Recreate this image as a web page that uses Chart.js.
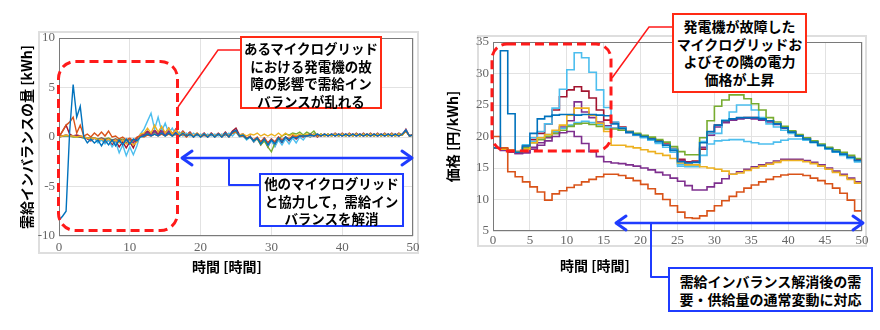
<!DOCTYPE html>
<html>
<head>
<meta charset="utf-8">
<script src="https://cdn.jsdelivr.net/npm/chart.js@4.4.1/dist/chart.umd.min.js"></script>
<style>
  body { margin: 0; background: #fff; }
  #stage { position: relative; width: 880px; height: 330px; overflow: hidden; font-family: "Noto Sans CJK JP", sans-serif; }
  .frame { position: absolute; border: 2px solid #dedede; box-sizing: border-box; }
  .plot { position: absolute; top: 0; width: 440px; height: 290px; }
  .note { position: absolute; background: #fff; color: #000; font-weight: bold; text-align: center; white-space: nowrap; box-sizing: border-box; }
  .red { border: 2px solid #ff2a14; }
  .blue { border: 2px solid #1f3cff; }
  svg { position: absolute; left: 0; top: 0; }
</style>
</head>
<body>
<div id="stage">
  <div class="frame" style="left:38px;top:31px;width:381px;height:223px"></div>
  <div class="frame" style="left:477px;top:35px;width:390px;height:212px"></div>

  <div class="plot" style="left:0"><canvas id="imbalanceChart"></canvas></div>
  <div class="plot" style="left:440px"><canvas id="priceChart"></canvas></div>

  <svg width="880" height="330">
    <g fill="none" stroke="#ff1a1a">
      <rect x="58.5" y="61.5" width="119" height="169" rx="17" stroke-width="3" stroke-dasharray="9 5"/>
      <rect x="492" y="44" width="119" height="107" rx="15" stroke-width="3" stroke-dasharray="9 5"/>
      <polyline points="178,107 218,50 240,50" stroke-width="1.5"/>
      <polyline points="612,78 649,27 672,27" stroke-width="1.5"/>
    </g>
    <g fill="none" stroke="#1f3cff" stroke-linecap="round" stroke-linejoin="round">
      <line x1="183" y1="158" x2="410" y2="158" stroke-width="2.5"/>
      <polyline points="192,151 182,158 192,165" stroke-width="3"/>
      <polyline points="402,151 412,158 402,165" stroke-width="3"/>
      <polyline points="229,158 229,185 259,185" stroke-width="2"/>
      <line x1="617" y1="223" x2="861" y2="223" stroke-width="2.5"/>
      <polyline points="626,216 616,223 626,230" stroke-width="3"/>
      <polyline points="853,216 863,223 853,230" stroke-width="3"/>
      <polyline points="651,223 651,277 668,277" stroke-width="2"/>
    </g>
  </svg>

  <div class="note red" style="left:240px;top:36px;width:142px;height:73px;font-size:13.5px;line-height:17.5px;padding-top:2px">あるマイクログリッド<br>における発電機の故<br>障の影響で需給イン<br>バランスが乱れる</div>
  <div class="note blue" style="left:259px;top:173px;width:145px;height:54px;font-size:13.5px;line-height:17.5px">他のマイクログリッド<br>と協力して，需給イン<br>バランスを解消</div>
  <div class="note red" style="left:672px;top:13px;width:135px;height:80px;font-size:14px;line-height:17.5px;padding-top:3px">発電機が故障した<br>マイクログリッドお<br>よびその隣の電力<br>価格が上昇</div>
  <div class="note blue" style="left:668px;top:267px;width:205px;height:45px;font-size:14px;line-height:18px;padding-top:3px">需給インバランス解消後の需<br>要・供給量の通常変動に対応</div>
</div>

<script>
// 左: 需給インバランス (30分刻み), 右: 電力価格 (1時間刻み, 階段)
const leftTimes = Array.from({ length: 101 }, (_, i) => i / 2);
const rightTimes = Array.from({ length: 51 }, (_, i) => i);

const leftBlue = [
  -8.4, -8.0, -7.5, 0.5, 5.3, 2.0, 3.1, 0.0, -0.6, -0.2,
  -0.6, -0.3, -0.9, -0.3, -0.8, -0.3, -0.9, -0.3, -0.8, -0.2,
  -0.7, -0.2, -0.4, 0.0, 0.1, 0.3, 0.1, 0.3, 0.1, 0.4,
  0.1, 0.4, 0.1, 0.4, 0.1, 0.4, 0.1, 0.3, 0.0, 0.3,
  0.0, 0.3, 0.0, 0.3, 0.0, 0.3, 0.0, 0.4, 0.0, 0.5,
  0.7, 0.1, 0.2, -0.2, 0.0, -0.4, -0.1, -0.7, -0.2, -0.8,
  -0.3, -0.7, -0.1, -0.5, 0.0, -0.3, 0.0, -0.1, 0.1, 0.1,
  0.1, 0.2, 0.1, 0.3, 0.1, 0.3, 0.1, 0.3, 0.1, 0.3,
  0.1, 0.3, 0.1, 0.3, 0.1, 0.3, 0.1, 0.3, 0.1, 0.3,
  0.1, 0.3, 0.1, 0.3, 0.1, 0.3, 0.1, 0.3, 0.7, 0.1,
  0.2
];
const leftOrange = [
  0.0, 0.6, 1.2, 1.5, 2.0, 0.4, 1.2, 0.1, 0.3, 0.0,
  0.4, 0.1, 0.5, 0.1, 0.6, 0.0, 0.1, -0.2, 0.0, -0.3,
  -0.1, -0.4, 0.0, 0.1, 0.0, 0.2, 0.1, 0.3, 0.1, 0.3,
  0.1, 0.3, 0.1, 0.3, 0.1, 0.3, 0.0, 0.3, 0.0, 0.3,
  0.0, 0.2, 0.0, 0.3, 0.0, 0.3, 0.0, 0.3, 0.0, 0.4,
  0.6, 0.1, 0.1, -0.1, 0.0, -0.3, 0.0, -0.5, -0.1, -0.6,
  -0.2, -0.5, 0.0, -0.3, 0.0, -0.2, 0.1, 0.0, 0.1, 0.1,
  0.1, 0.2, 0.1, 0.2, 0.1, 0.3, 0.1, 0.3, 0.1, 0.3,
  0.1, 0.3, 0.1, 0.3, 0.1, 0.3, 0.1, 0.3, 0.1, 0.3,
  0.1, 0.3, 0.1, 0.3, 0.1, 0.3, 0.1, 0.3, 0.6, 0.1,
  0.2
];
const leftYellow = [
  0.0, 0.1, 0.2, 0.1, 0.1, 0.0, 0.1, 0.0, -0.1, -0.2,
  -0.1, -0.3, -0.2, -0.4, -0.2, -0.5, -0.3, -0.6, -0.3, -0.7,
  -0.4, -0.8, -0.5, 0.3, 0.4, 0.9, 0.4, 1.2, 0.5, 1.1,
  0.4, 0.9, 0.3, 0.7, 0.2, 0.5, 0.1, 0.4, 0.1, 0.4,
  0.1, 0.3, 0.1, 0.3, 0.1, 0.3, 0.1, 0.4, 0.1, 0.4,
  0.5, 0.2, 0.3, 0.1, 0.3, 0.2, 0.4, 0.1, 0.3, 0.1,
  0.3, 0.1, 0.4, 0.1, 0.4, 0.1, 0.3, 0.1, 0.3, 0.1,
  0.3, 0.1, 0.3, 0.1, 0.3, 0.1, 0.3, 0.1, 0.3, 0.1,
  0.3, 0.1, 0.3, 0.1, 0.3, 0.1, 0.3, 0.1, 0.3, 0.1,
  0.3, 0.1, 0.3, 0.1, 0.3, 0.1, 0.3, 0.2, 0.6, 0.1,
  0.2
];
const leftPurple = [
  0.0, 0.1, 0.2, 0.1, 0.1, 0.1, 0.0, 0.0, -0.1, -0.2,
  -0.1, -0.3, -0.1, -0.3, -0.2, -0.4, -0.2, -0.5, -0.3, -0.6,
  -0.3, -0.6, -0.1, 0.2, 0.2, 0.5, 0.2, 0.6, 0.2, 0.6,
  0.2, 0.6, 0.2, 0.5, 0.1, 0.4, 0.1, 0.4, 0.1, 0.3,
  0.1, 0.3, 0.1, 0.3, 0.1, 0.3, 0.1, 0.3, 0.1, 0.4,
  0.6, 0.1, 0.2, -0.1, 0.0, -0.3, -0.1, -0.5, -0.1, -0.6,
  -0.2, -0.5, 0.0, -0.3, 0.0, -0.2, 0.1, 0.0, 0.1, 0.1,
  0.1, 0.3, 0.1, 0.3, 0.1, 0.3, 0.1, 0.3, 0.1, 0.3,
  0.1, 0.3, 0.1, 0.3, 0.1, 0.3, 0.1, 0.3, 0.1, 0.3,
  0.1, 0.3, 0.1, 0.3, 0.1, 0.3, 0.1, 0.3, 0.7, 0.1,
  0.3
];
const leftGreen = [
  0.0, 0.1, 0.1, 0.1, 0.0, 0.0, 0.0, -0.1, -0.1, -0.1,
  -0.1, -0.2, -0.1, -0.2, -0.1, -0.3, -0.2, -0.3, -0.2, -0.4,
  -0.2, -0.4, -0.1, 0.1, 0.2, 0.4, 0.2, 0.5, 0.2, 0.5,
  0.2, 0.5, 0.1, 0.4, 0.1, 0.3, 0.1, 0.3, 0.1, 0.3,
  0.1, 0.3, 0.1, 0.3, 0.1, 0.3, 0.1, 0.3, 0.1, 0.4,
  0.5, 0.1, 0.1, -0.2, 0.0, -0.4, -0.2, -0.8, -0.4, -1.0,
  -1.5, -0.6, -0.2, 0.1, 0.3, 0.2, 0.4, 0.3, 0.5, 0.2,
  0.5, 0.3, 0.6, 0.1, 0.3, 0.1, 0.3, 0.1, 0.3, 0.1,
  0.3, 0.1, 0.3, 0.1, 0.3, 0.1, 0.3, 0.1, 0.3, 0.1,
  0.3, 0.1, 0.3, 0.1, 0.3, 0.1, 0.3, 0.2, 0.6, 0.1,
  0.2
];
const leftLightBlue = [
  0.0, 0.1, 0.1, 0.1, 0.1, 0.0, 0.0, -0.1, -0.1, -0.3,
  -0.1, -0.6, -0.3, -0.7, -0.3, -1.0, -0.5, -1.6, -0.8, -1.9,
  -1.0, -1.8, -0.9, 0.3, 0.8, 1.6, 2.4, 0.8, 2.0, 0.6,
  1.4, 0.4, 0.9, 0.2, 0.5, 0.1, 0.4, 0.1, 0.4, 0.1,
  0.3, 0.1, 0.3, 0.1, 0.3, 0.1, 0.3, 0.1, 0.4, 0.1,
  0.5, 0.0, 0.1, -0.3, 0.0, -0.5, -0.1, -0.7, -0.2, -0.9,
  -0.4, -1.0, -0.3, -0.8, -0.2, -0.7, -0.1, -0.6, 0.0, -0.3,
  0.2, 0.0, 0.3, 0.1, 0.3, 0.1, 0.3, 0.1, 0.3, 0.1,
  0.3, 0.1, 0.3, 0.1, 0.3, 0.1, 0.3, 0.1, 0.3, 0.1,
  0.3, 0.1, 0.3, 0.1, 0.3, 0.1, 0.3, 0.2, 0.7, 0.1,
  0.2
];
const leftDarkRed = [
  0.0, 0.6, 1.2, 0.3, 0.1, 0.2, 0.1, 0.0, -0.2, -0.4,
  -0.1, -0.4, -0.2, -0.6, -0.3, -0.8, -0.4, -1.0, -0.5, -1.1,
  -0.5, -1.1, -0.2, 0.2, 0.3, 0.6, 0.3, 0.7, 0.3, 0.8,
  0.4, 0.9, 0.3, 0.8, 0.2, 0.6, 0.2, 0.5, 0.1, 0.4,
  0.1, 0.4, 0.0, 0.4, 0.1, 0.4, 0.1, 0.5, 0.1, 0.6,
  0.9, 0.2, 0.3, -0.2, 0.1, -0.5, -0.1, -0.8, -0.2, -1.0,
  -0.3, -0.9, -0.1, -0.6, 0.0, -0.4, 0.1, -0.2, 0.1, 0.0,
  0.2, 0.0, 0.3, 0.0, 0.3, 0.1, 0.3, 0.1, 0.4, 0.1,
  0.4, 0.1, 0.4, 0.1, 0.4, 0.1, 0.4, 0.1, 0.4, 0.1,
  0.4, 0.1, 0.4, 0.1, 0.4, 0.1, 0.4, 0.2, 0.8, 0.1,
  0.3
];

const rightBlue = [
  18.2, 33.6, 23.6, 17.5, 18.5, 20.5, 22.8, 23.2, 23.4, 23.5,
  23.5, 23.4, 23.5, 23.5, 23.4, 23.3, 22.0, 21.3, 20.7, 20.3,
  20.0, 19.6, 19.2, 18.6, 17.8, 16.0, 15.8, 15.9, 19.0, 20.8,
  21.8, 22.5, 22.8, 23.0, 23.0, 23.0, 22.8, 22.5, 22.0, 21.4,
  20.7, 20.1, 19.6, 19.1, 18.6, 18.1, 17.6, 17.2, 16.7, 16.2, 15.7
];
const rightOrange = [
  20.0, 18.2, 14.4, 13.6, 12.8, 12.0, 11.2, 9.9, 10.9, 11.4,
  11.9, 12.3, 12.8, 13.2, 13.6, 14.0, 14.0, 13.8, 13.4, 13.0,
  12.4, 11.7, 10.9, 10.0, 9.0, 8.0, 7.1, 7.0, 7.4, 8.2,
  9.0, 9.8, 10.5, 11.2, 11.8, 12.3, 12.8, 13.2, 13.6, 13.9,
  14.0, 14.0, 13.8, 13.4, 13.0, 12.5, 11.8, 11.0, 9.9, 8.2, 8.2
];
const rightYellow = [
  18.2, 18.0, 17.8, 17.5, 18.0, 19.0, 19.8, 20.3, 21.0, 21.8,
  23.4, 24.5, 24.5, 23.4, 22.1, 20.8, 18.6, 18.6, 18.4, 18.2,
  17.9, 17.6, 17.3, 17.0, 16.5, 15.8, 15.5, 15.5, 15.2, 15.0,
  14.8, 14.5, 14.0, 14.2, 14.6, 15.0, 15.3, 15.6, 15.9, 16.2,
  16.2, 16.2, 16.0, 15.7, 15.3, 14.8, 14.3, 13.8, 13.2, 12.6, 12.2
];
const rightPurpleLow = [
  18.2, 17.8, 17.5, 17.3, 17.4, 18.0, 18.6, 19.3, 20.0, 20.6,
  20.8, 20.0, 18.9, 17.6, 16.8, 16.0, 15.8, 15.7, 15.5, 15.3,
  15.0, 14.7, 14.3, 13.9, 13.4, 12.9, 12.2, 11.5, 11.5, 12.0,
  12.6, 13.3, 14.0, 14.4, 14.8, 15.2, 15.5, 15.8, 16.1, 16.4,
  16.4, 16.4, 16.2, 15.9, 15.5, 15.0, 14.5, 14.0, 13.4, 12.8, 12.5
];
const rightGreen = [
  18.2, 18.0, 17.8, 17.6, 18.2, 19.0, 19.5, 20.0, 20.5, 21.0,
  21.6, 22.0, 22.1, 21.9, 21.6, 21.2, 21.2, 21.0, 20.8, 20.5,
  20.2, 19.9, 19.5, 19.1, 18.4, 17.6, 17.1, 17.1, 19.8, 22.5,
  24.8, 25.8, 26.6, 26.6, 26.0, 25.2, 24.2, 23.0, 22.3, 21.6,
  20.9, 20.3, 19.8, 19.3, 18.8, 18.3, 17.9, 17.5, 17.0, 16.5, 16.1
];
const rightLightBlueLow = [
  18.2, 18.0, 17.7, 17.5, 18.3, 19.2, 19.8, 20.3, 20.8, 21.3,
  21.8, 22.2, 22.4, 22.2, 21.9, 21.5, 21.3, 21.0, 20.6, 20.2,
  19.9, 19.5, 19.1, 18.6, 18.0, 15.6, 15.3, 15.3, 17.0, 18.8,
  19.3, 19.4, 19.5, 19.5, 19.2, 19.0, 18.8, 18.8, 19.1, 19.4,
  19.6, 19.6, 19.4, 19.0, 18.5, 18.0, 17.5, 17.0, 16.5, 16.0, 15.5
];
const rightLightBlue = [
  18.2, 18.0, 17.6, 17.4, 18.7, 19.8, 20.8, 22.0, 24.5, 27.5,
  30.6, 33.3, 32.5, 30.2, 27.4, 24.6, 22.3, 21.4, 20.7, 20.2,
  19.8, 19.4, 18.9, 18.3, 17.5, 15.3, 15.2, 15.2, 19.2, 20.5,
  20.5, 22.6, 23.9, 25.0, 25.0, 24.2, 23.0, 22.0, 21.5, 21.0,
  20.5, 20.1, 19.7, 19.2, 18.7, 18.2, 17.7, 17.2, 16.6, 16.0, 15.4
];
const rightPurple = [
  18.2, 18.0, 17.6, 17.3, 17.5, 18.3, 19.0, 19.8, 20.5, 21.5,
  22.5, 25.5, 23.9, 23.0, 22.3, 21.7, 21.3, 21.0, 20.6, 20.2,
  19.9, 19.5, 19.1, 18.6, 17.9, 16.2, 15.9, 16.0, 18.3, 20.2,
  21.5, 22.2, 22.6, 22.8, 22.9, 22.8, 22.6, 22.3, 21.9, 21.3,
  20.7, 20.1, 19.6, 19.1, 18.6, 18.1, 17.6, 17.1, 16.6, 16.2, 15.8
];
const rightDarkRed = [
  18.2, 18.0, 17.8, 17.6, 18.5, 19.5, 20.5, 22.0, 24.2, 26.3,
  27.4, 27.9, 27.2, 26.1, 24.2, 22.6, 22.2, 21.5, 20.8, 20.4,
  20.1, 19.7, 19.3, 18.8, 18.1, 16.4, 16.0, 16.1, 18.0, 20.5,
  21.8, 22.3, 22.7, 22.9, 23.0, 23.0, 22.8, 22.5, 22.0, 21.4,
  20.8, 20.2, 19.7, 19.2, 18.7, 18.2, 17.7, 17.2, 16.7, 16.3, 15.9
];

const colors = {
  blue: '#0072BD', orange: '#D95319', yellow: '#EDB120', purple: '#7E2F8E',
  green: '#77AC30', lightBlue: '#4DBEEE', darkRed: '#A2142F'
};

function toPoints(times, values) {
  return values.map((v, i) => ({ x: times[i], y: v }));
}

// kader om het plotvlak (MATLAB box)
const axesBox = {
  id: 'axesBox',
  afterDatasetsDraw(chart) {
    const { ctx, chartArea: a } = chart;
    ctx.save();
    ctx.strokeStyle = '#7a7a7a';
    ctx.lineWidth = 1;
    ctx.strokeRect(a.left + 0.5, a.top + 0.5, a.right - a.left - 1, a.bottom - a.top - 1);
    ctx.restore();
  }
};

// x-as titel op vaste plek
const caption = {
  id: 'caption',
  afterDraw(chart, args, opts) {
    const ctx = chart.ctx;
    ctx.save();
    ctx.font = 'bold 14px "Noto Sans CJK JP"';
    ctx.fillStyle = '#000';
    ctx.textAlign = 'center';
    ctx.textBaseline = 'middle';
    ctx.fillText(opts.text, opts.x, opts.y);
    ctx.restore();
  }
};

const tickFont = { family: "'Liberation Serif', 'DejaVu Serif', serif", size: 13 };
const titleFont = { family: "'Noto Sans CJK JP', sans-serif", size: 14, weight: 'bold' };

function buildOptions(o) {
  return {
    responsive: true,
    maintainAspectRatio: false,
    animation: false,
    layout: { padding: { top: o.top, right: o.right, left: 0, bottom: 0 } },
    elements: { point: { radius: 0 }, line: { borderWidth: o.lineWidth, tension: 0 } },
    plugins: {
      legend: { display: false },
      tooltip: { enabled: false },
      caption: { text: '時間 [時間]', x: o.capX, y: o.capY }
    },
    scales: {
      x: {
        type: 'linear', min: 0, max: 50,
        afterFit: s => { s.height = o.xHeight; },
        border: { display: false },
        grid: { color: '#e2e2e2', drawTicks: false },
        ticks: { stepSize: o.xStep, padding: o.xPad, autoSkip: false, maxRotation: 0, color: '#666', font: tickFont }
      },
      y: {
        min: o.yMin, max: o.yMax,
        afterFit: s => { s.width = o.yWidth; },
        border: { display: false },
        grid: { color: '#e2e2e2', drawTicks: false },
        ticks: { stepSize: 5, padding: 4, color: '#666', font: tickFont },
        title: { display: true, text: o.yTitle, color: '#000', font: titleFont, padding: { top: o.yTitlePad, bottom: 0 } }
      }
    }
  };
}

new Chart(document.getElementById('imbalanceChart'), {
  type: 'line',
  data: {
    datasets: [
      { data: toPoints(leftTimes, leftBlue), borderColor: colors.blue },
      { data: toPoints(leftTimes, leftOrange), borderColor: colors.orange },
      { data: toPoints(leftTimes, leftYellow), borderColor: colors.yellow },
      { data: toPoints(leftTimes, leftPurple), borderColor: colors.purple },
      { data: toPoints(leftTimes, leftGreen), borderColor: colors.green },
      { data: toPoints(leftTimes, leftLightBlue), borderColor: colors.lightBlue },
      { data: toPoints(leftTimes, leftDarkRed), borderColor: colors.darkRed }
    ]
  },
  options: buildOptions({
    top: 38, right: 27, xHeight: 54, yWidth: 59, xStep: 10, xPad: 4, lineWidth: 1.4,
    yMin: -10, yMax: 10, yTitle: '需給インバランスの量 [kWh]', yTitlePad: 18,
    capX: 227, capY: 267
  }),
  plugins: [axesBox, caption]
});

new Chart(document.getElementById('priceChart'), {
  type: 'line',
  data: {
    datasets: [
      { data: toPoints(rightTimes, rightBlue), borderColor: colors.blue, stepped: true },
      { data: toPoints(rightTimes, rightOrange), borderColor: colors.orange, stepped: true },
      { data: toPoints(rightTimes, rightYellow), borderColor: colors.yellow, stepped: true },
      { data: toPoints(rightTimes, rightPurpleLow), borderColor: colors.purple, stepped: true },
      { data: toPoints(rightTimes, rightGreen), borderColor: colors.green, stepped: true },
      { data: toPoints(rightTimes, rightLightBlueLow), borderColor: colors.lightBlue, stepped: true },
      { data: toPoints(rightTimes, rightLightBlue), borderColor: colors.lightBlue, stepped: true },
      { data: toPoints(rightTimes, rightPurple), borderColor: colors.purple, stepped: true },
      { data: toPoints(rightTimes, rightDarkRed), borderColor: colors.darkRed, stepped: true }
    ]
  },
  options: buildOptions({
    top: 42, right: 18, xHeight: 59, yWidth: 53, xStep: 5, xPad: 2, lineWidth: 1.6,
    yMin: 5, yMax: 35, yTitle: '価格 [円/kWh]', yTitlePad: 4,
    capX: 155, capY: 266
  }),
  plugins: [axesBox, caption]
});
</script>
</body>
</html>
